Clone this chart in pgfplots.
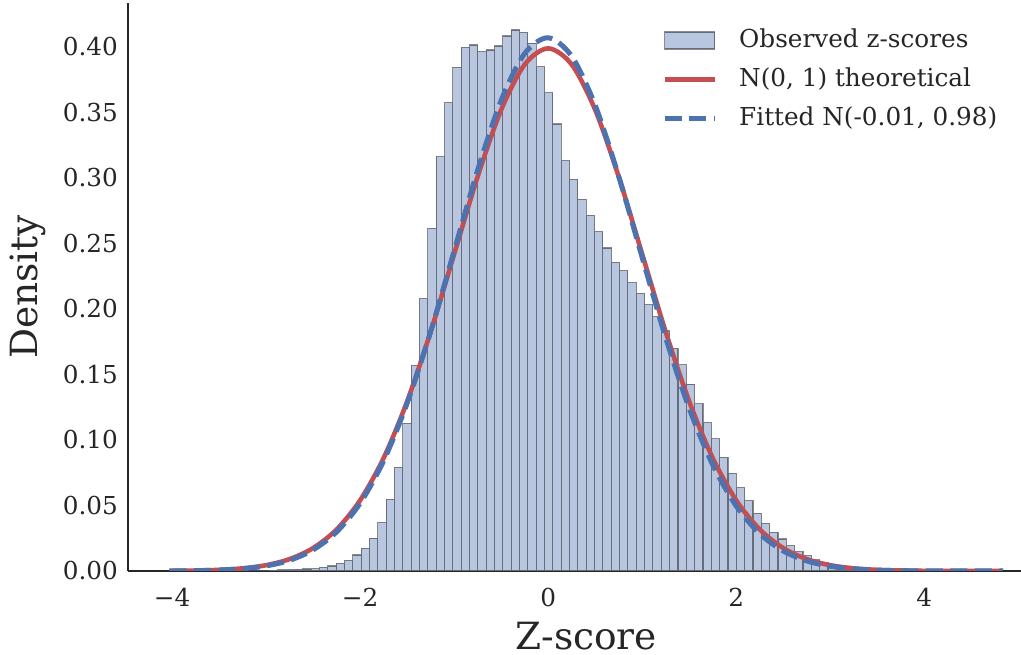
\documentclass[border=0pt]{standalone}
\usepackage{fontspec}
\setmainfont{DejaVu Serif}
\usepackage{pgfplots}
\pgfplotsset{compat=1.18}
\usepackage{pgfplotstable}

\definecolor{histfill}{RGB}{184,199,223}
\definecolor{cred}{RGB}{196,78,82}
\definecolor{cblue}{RGB}{76,114,176}
\definecolor{spine}{RGB}{38,38,38}

% histogram: left bin edge, density (last row closes the final bin)
\pgfplotstableread{
x y
-4.0300 0.0001
-3.9413 0.0001
-3.8526 0.0001
-3.7639 0.0001
-3.6752 0.0001
-3.5865 0.0002
-3.4978 0.0002
-3.4091 0.0002
-3.3204 0.0003
-3.2317 0.0003
-3.1430 0.0004
-3.0543 0.0005
-2.9656 0.0006
-2.8769 0.0008
-2.7882 0.0010
-2.6995 0.0012
-2.6108 0.0015
-2.5221 0.0019
-2.4334 0.0028
-2.3447 0.0038
-2.2560 0.0058
-2.1673 0.0082
-2.0786 0.0122
-1.9899 0.0173
-1.9012 0.0250
-1.8125 0.0369
-1.7238 0.0547
-1.6351 0.0791
-1.5464 0.1127
-1.4577 0.1570
-1.3690 0.2080
-1.2803 0.2616
-1.1916 0.3163
-1.1029 0.3575
-1.0142 0.3845
-0.9255 0.3997
-0.8368 0.4015
-0.7481 0.3964
-0.6594 0.3977
-0.5707 0.4008
-0.4820 0.4084
-0.3933 0.4130
-0.3046 0.4112
-0.2159 0.4030
-0.1272 0.3850
-0.0385 0.3650
0.0502 0.3412
0.1389 0.3132
0.2276 0.2990
0.3163 0.2837
0.4050 0.2715
0.4937 0.2590
0.5824 0.2466
0.6711 0.2356
0.7598 0.2292
0.8485 0.2201
0.9372 0.2120
1.0259 0.2033
1.1146 0.1941
1.2033 0.1832
1.2920 0.1700
1.3807 0.1573
1.4694 0.1427
1.5581 0.1276
1.6468 0.1132
1.7355 0.1008
1.8242 0.0868
1.9129 0.0746
2.0016 0.0636
2.0903 0.0537
2.1790 0.0440
2.2677 0.0364
2.3564 0.0295
2.4451 0.0244
2.5338 0.0193
2.6225 0.0148
2.7112 0.0117
2.7999 0.0084
2.8886 0.0061
2.9773 0.0043
3.0660 0.0030
3.1547 0.0022
3.2434 0.0016
3.3321 0.0012
3.4208 0.0009
3.5095 0.0007
3.5982 0.0005
3.6869 0.0004
3.7756 0.0003
3.8643 0.0002
3.9530 0.0002
4.0417 0.0001
4.1304 0.0001
4.2191 0.0001
4.3078 0.0001
4.3965 0.0000
4.4852 0.0000
4.5739 0.0001
4.6626 0.0000
4.7513 0.0001
4.8400 0.0001
}\histdata

\pgfplotstableread{
x y
-4.03 0.000119
-4.00 0.000134
-3.75 0.000353
-3.50 0.000873
-3.25 0.002029
-3.00 0.004432
-2.75 0.009094
-2.50 0.017528
-2.25 0.031740
-2.00 0.053991
-1.75 0.086277
-1.50 0.129518
-1.25 0.182649
-1.00 0.241971
-0.75 0.301137
-0.50 0.352065
-0.25 0.386668
0.00 0.398942
0.25 0.386668
0.50 0.352065
0.75 0.301137
1.00 0.241971
1.25 0.182649
1.50 0.129518
1.75 0.086277
2.00 0.053991
2.25 0.031740
2.50 0.017528
2.75 0.009094
3.00 0.004432
3.25 0.002029
3.50 0.000873
3.75 0.000353
4.00 0.000134
4.25 0.000048
4.50 0.000016
4.75 0.000005
4.84 0.000003
}\theory

\pgfplotstableread{
x y
-4.03 0.000090
-4.00 0.000102
-3.75 0.000280
-3.50 0.000717
-3.25 0.001722
-3.00 0.003875
-2.75 0.008170
-2.50 0.016138
-2.25 0.029871
-2.00 0.051797
-1.75 0.084172
-1.50 0.128150
-1.25 0.182821
-1.00 0.244386
-0.75 0.306113
-0.50 0.359249
-0.25 0.395053
0.00 0.407063
0.25 0.392999
0.50 0.355533
0.75 0.301375
1.00 0.239355
1.25 0.178134
1.50 0.124214
1.75 0.081163
2.00 0.049687
2.25 0.028503
2.50 0.015319
2.75 0.007716
3.00 0.003641
3.25 0.001610
3.50 0.000667
3.75 0.000259
4.00 0.000094
4.25 0.000032
4.50 0.000010
4.75 0.000003
4.84 0.000002
}\fitted

\begin{document}
\begin{tikzpicture}
\useasboundingbox (-128pt,-84pt) rectangle (893pt,571pt);
\begin{axis}[
  scale only axis,
  width=893pt, height=568pt,
  xmin=-4.47, xmax=5.03,
  ymin=0, ymax=0.4336,
  axis x line*=bottom, axis y line*=left,
  axis line style={spine, line width=1.4pt, -},
  major tick length=0pt,
  xtick={-4,-2,0,2,4},
  xticklabels={−4,−2,0,2,4},
  ytick={0,0.05,0.10,0.15,0.20,0.25,0.30,0.35,0.40},
  /pgf/number format/assume math mode=true,
  yticklabel style={/pgf/number format/fixed, /pgf/number format/fixed zerofill, /pgf/number format/precision=2,
    anchor=east, inner sep=0pt, xshift=-10pt},
  xticklabel style={anchor=base, inner sep=0pt, yshift=-36pt},
  tick label style={font=\fontsize{24.7}{29}\selectfont, text=spine},
  xlabel={Z-score}, ylabel={Density},
  label style={font=\fontsize{37.5}{45}\selectfont, text=spine},
  xlabel style={at={(axis description cs:0.513,-0.1375)}, anchor=base, inner sep=0pt},
  ylabel style={at={(axis description cs:-0.1125,0.5)}, anchor=center, inner sep=0pt},
  legend style={draw=none, fill=none, at={(axis description cs:0.598,0.9545)}, anchor=north west,
    font=\fontsize{24.7}{29}\selectfont, inner sep=0pt, row sep=16pt,
    nodes={inner sep=0pt, text height=18pt, text depth=5pt, text=spine},
    /tikz/every odd column/.append style={column sep=22pt}},
  legend cell align=left,
]
\addplot[ybar interval, fill=histfill, draw=black, draw opacity=0.45, line width=1.1pt,
  legend image code/.code={\draw[fill=histfill, draw=black, draw opacity=0.45, line width=1.1pt] (0pt,-8.5pt) rectangle (50pt,8.5pt);}]
  table[x=x, y=y] {\histdata};
\addlegendentry{Observed z-scores}
\addplot[cred, line width=4.6pt, smooth, no markers,
  legend image code/.code={\draw[cred, line width=4.6pt] (0pt,0pt) -- (50pt,0pt);}]
  table[x=x, y=y] {\theory};
\addlegendentry{N(0, 1) theoretical}
\addplot[cblue, line width=5pt, smooth, no markers, dash pattern=on 17pt off 7.5pt,
  legend image code/.code={\draw[cblue, line width=5pt, dash pattern=on 17pt off 7.5pt] (0pt,0pt) -- (50pt,0pt);}]
  table[x=x, y=y] {\fitted};
\addlegendentry{Fitted N(-0.01, 0.98)}
\end{axis}
\end{tikzpicture}
\end{document}
